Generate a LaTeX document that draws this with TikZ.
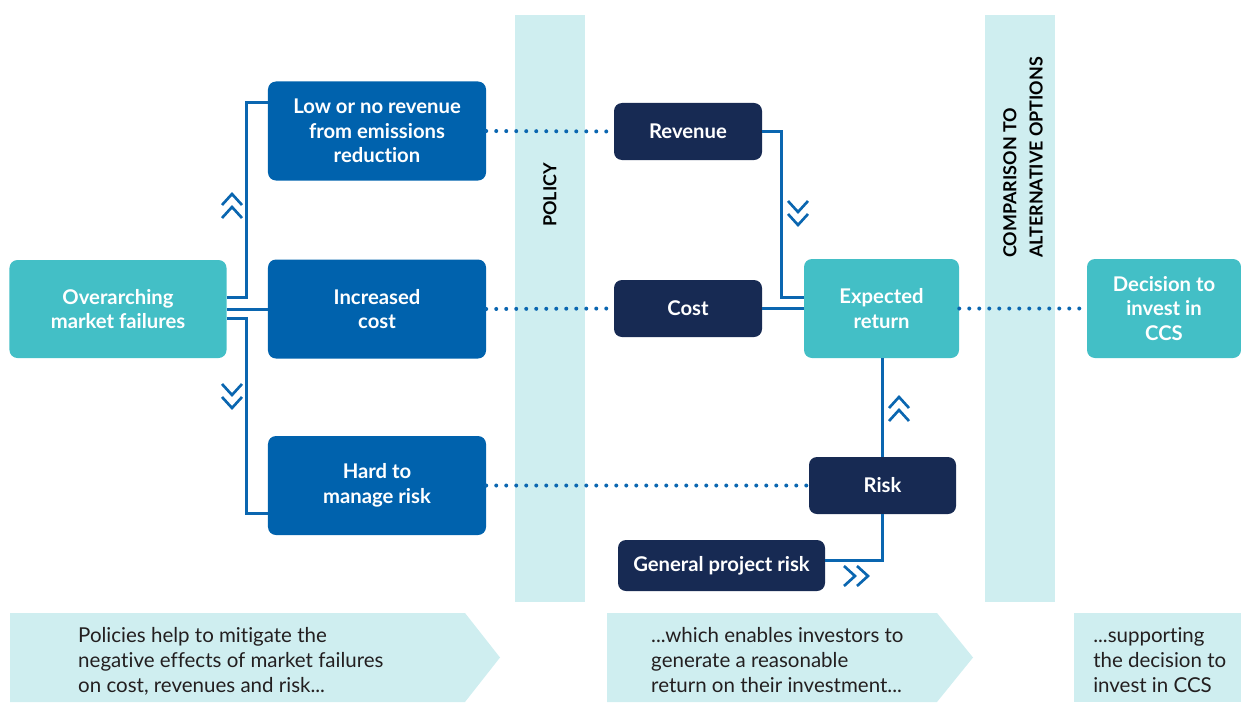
\documentclass[tikz,border=0pt]{standalone}
\usepackage{fontspec}
\setmainfont{Lato}[Ligatures=NoCommon]
\usetikzlibrary{positioning}

\definecolor{ccsteal}{RGB}{67,191,198}
\definecolor{ccsblue}{RGB}{0,98,173}
\definecolor{ccsnavy}{RGB}{23,42,83}
\definecolor{ccsband}{RGB}{207,238,240}
\definecolor{ccsline}{RGB}{10,102,176}
\definecolor{ccstext}{RGB}{35,31,32}

\newcommand\boxfont{\fontsize{17.3}{20.9}\selectfont\bfseries}
\newcommand\notefont{\fontsize{17.5}{21.3}\selectfont}
\newcommand\bandfont{\fontsize{15.3}{22.2}\selectfont\bfseries}

\begin{document}
\begin{tikzpicture}[x=0.03cm, y=-0.03cm,
  box/.style={rounded corners=0.24cm, text=white, align=center, font=\boxfont, inner sep=0pt},
  tealbox/.style={box, fill=ccsteal},
  bluebox/.style={box, fill=ccsblue},
  navybox/.style={box, fill=ccsnavy},
  link/.style={draw=ccsline, line width=0.09cm},
  dotlink/.style={draw=ccsline, line width=0.12cm, line cap=round, dash pattern=on 0pt off 0.3cm},
  band/.style={fill=ccsband},
  note/.style={align=left, anchor=north west, font=\notefont, text=ccstext, inner sep=0pt},
  chev/.pic={\draw[ccsline, line width=0.08cm] (-10,-1) -- (0,-12) -- (10,-1) (-10,12) -- (0,1) -- (10,12);}
]
\useasboundingbox (0,0) rectangle (1241,702);

% bands
\fill[band] (515,15) rectangle (585,602);
\fill[band] (985,15) rectangle (1055,602);
\node[rotate=90, font=\bandfont] (policy) at (550,195) {POLICY};
\node[rotate=90, anchor=west, align=left, inner sep=0pt, font=\bandfont] (compare) at (1023,258) {COMPARISON TO\\ALTERNATIVE OPTIONS};

% bottom notes
\fill[band] (10,613) -- (465,613) -- (500,657.5) -- (465,702) -- (10,702) -- cycle;
\fill[band] (607,613) -- (937,613) -- (973,657.5) -- (937,702) -- (607,702) -- cycle;
\fill[band] (1074,613) rectangle (1241,702);
\node[note] (note1) at (78,627) {Policies help to mitigate the\\negative effects of market failures\\on cost, revenues and risk...};
\node[note] (note2) at (651,627) {...which enables investors to\\generate a reasonable\\return on their investment...};
\node[note] (note3) at (1093,627) {...supporting\\the decision to\\invest in CCS};

% boxes
\node[tealbox, minimum width=6.51cm, minimum height=2.94cm] (over) at (118,309) {Overarching\\market failures};
\node[bluebox, minimum width=6.54cm, minimum height=2.97cm] (low) at (377,131) {Low or no revenue\\from emissions\\reduction};
\node[bluebox, minimum width=6.54cm, minimum height=2.97cm] (inc) at (377,309) {Increased\\cost};
\node[bluebox, minimum width=6.54cm, minimum height=2.97cm] (hard) at (377,485.5) {Hard to\\manage risk};
\node[navybox, minimum width=4.44cm, minimum height=1.71cm] (rev) at (688,131.5) {Revenue};
\node[navybox, minimum width=4.44cm, minimum height=1.71cm] (cost) at (688,308.5) {Cost};
\node[tealbox, minimum width=4.65cm, minimum height=2.97cm] (exp) at (881.5,308.5) {Expected\\return};
\node[navybox, minimum width=4.41cm, minimum height=1.71cm] (risk) at (882.5,485.5) {Risk};
\node[navybox, minimum width=6.21cm, minimum height=1.53cm] (gen) at (721.5,565.5) {General project risk};
\node[tealbox, minimum width=4.62cm, minimum height=2.97cm] (dec) at (1164,308.5) {Decision to\\invest in\\CCS};

% solid links
\draw[link] ([yshift=0.36cm]over.east) -- ++(20,0) |- ([yshift=0.84cm]low.west);
\draw[link] (over.east) -- (inc.west);
\draw[link] ([yshift=-0.27cm]over.east) -- ++(20,0) |- ([yshift=-0.825cm]hard.west);
\draw[link] (rev.east) -- ++(19,0) |- ([yshift=0.32cm]exp.west);
\draw[link] (cost.east) -- (cost.east -| exp.west);
\draw[link] (risk.north) -- (risk.north |- exp.south);
\draw[link] ([yshift=0.165cm]gen.east) -| (risk.south);

% dotted links
\draw[dotlink] (low.east) -- (rev.west);
\draw[dotlink] (inc.east) -- (cost.west);
\draw[dotlink] (hard.east) -- (risk.west);
\draw[dotlink] (exp.east) -- (dec.west);

% chevrons
\pic at (232,206) {chev};
\pic[rotate=180] at (232,396) {chev};
\pic[rotate=180] at (798,213) {chev};
\pic at (899,409) {chev};
\pic[rotate=-90] at (856,576) {chev};
\end{tikzpicture}
\end{document}
